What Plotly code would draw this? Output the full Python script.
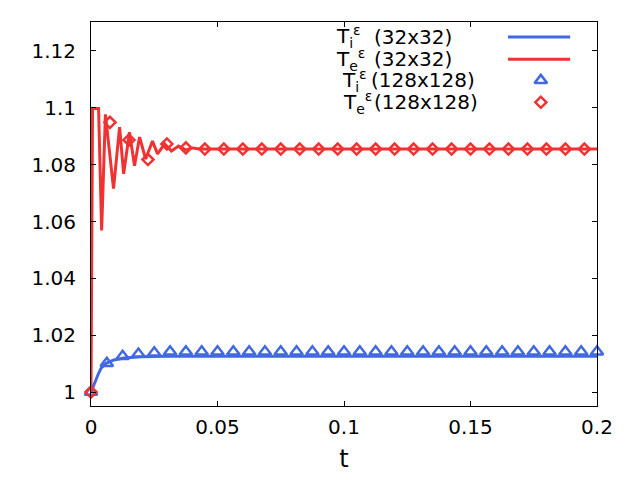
import plotly.graph_objects as go

BLUE = "#4169e1"
RED = "#f03232"

# 32x32 mesh : ion temperature
t_i32 = [0, 0.001, 0.002, 0.003, 0.004, 0.006, 0.009, 0.013, 0.02, 0.03, 0.2]
Ti_32 = [1.0, 1.0024, 1.0045, 1.0066, 1.0084, 1.0101, 1.0113, 1.0120, 1.0124, 1.0126, 1.0126]

# 32x32 mesh : electron temperature (damped oscillation)
t_e32 = [0, 0.0006, 0.003, 0.0042, 0.0057, 0.0089, 0.0113, 0.0129, 0.0152, 0.0172,
         0.0192, 0.0216, 0.0243, 0.0263, 0.0291, 0.0318, 0.0346, 0.0374, 0.0402, 0.0429, 0.2]
Te_32 = [1.0, 1.0998, 1.0998, 1.0569, 1.0977, 1.0716, 1.0932, 1.0768, 1.0914, 1.0796,
         1.0897, 1.0820, 1.0883, 1.0838, 1.0873, 1.0848, 1.0866, 1.0852, 1.0859, 1.0855, 1.0855]

# 128x128 mesh : ion temperature (triangles)
t_i128 = [0, 0.00625, 0.0125, 0.01875, 0.025, 0.03125, 0.0375, 0.04375, 0.05, 0.05625,
          0.0625, 0.06875, 0.075, 0.08125, 0.0875, 0.09375, 0.1, 0.10625, 0.1125, 0.11875,
          0.125, 0.13125, 0.1375, 0.14375, 0.15, 0.15625, 0.1625, 0.16875, 0.175, 0.18125,
          0.1875, 0.19375, 0.2]
Ti_128 = [1.0, 1.0101, 1.0126, 1.0134, 1.0138, 1.0142, 1.0142, 1.0142, 1.0142, 1.0142,
          1.0142, 1.0142, 1.0142, 1.0142, 1.0142, 1.0142, 1.0142, 1.0142, 1.0142, 1.0142,
          1.0142, 1.0142, 1.0142, 1.0142, 1.0142, 1.0142, 1.0142, 1.0142, 1.0142, 1.0142,
          1.0142, 1.0142, 1.0142]

# 128x128 mesh : electron temperature (diamonds)
t_e128 = [0, 0.0075, 0.015, 0.0225, 0.03, 0.0375, 0.045, 0.0525, 0.06, 0.0675,
          0.075, 0.0825, 0.09, 0.0975, 0.105, 0.1125, 0.12, 0.1275, 0.135, 0.1425,
          0.15, 0.1575, 0.165, 0.1725, 0.18, 0.1875, 0.195]
Te_128 = [1.0, 1.0949, 1.0887, 1.0818, 1.0873, 1.0859, 1.0855, 1.0855, 1.0855, 1.0855,
          1.0855, 1.0855, 1.0855, 1.0855, 1.0855, 1.0855, 1.0855, 1.0855, 1.0855, 1.0855,
          1.0855, 1.0855, 1.0855, 1.0855, 1.0855, 1.0855, 1.0855]

x_ticks = [0, 0.05, 0.1, 0.15, 0.2]
x_labels = ["0", "0.05", "0.1", "0.15", "0.2"]
y_ticks = [1.0, 1.02, 1.04, 1.06, 1.08, 1.1, 1.12]
y_labels = ["1", "1.02", "1.04", "1.06", "1.08", "1.1", "1.12"]

names = ["T<sub>i</sub><sup>ε</sup>", "T<sub>e</sub><sup>ε</sup>",
         "T<sub>i</sub><sup>ε</sup>", "T<sub>e</sub><sup>ε</sup>"]
meshes = ["(32x32)", "(32x32)", "(128x128)", "(128x128)"]

tri = dict(symbol="triangle-up-open", size=11, color=BLUE, line=dict(width=2.5, color=BLUE))
dia = dict(symbol="diamond-open", size=8.5, color=RED, line=dict(width=2.5, color=RED))

fig = go.Figure()
fig.add_trace(go.Scatter(x=t_i32, y=Ti_32, mode="lines", line=dict(color=BLUE, width=3)))
fig.add_trace(go.Scatter(x=t_e32, y=Te_32, mode="lines", line=dict(color=RED, width=3)))
fig.add_trace(go.Scatter(x=t_i128, y=Ti_128, mode="markers", marker=tri, cliponaxis=False))
fig.add_trace(go.Scatter(x=t_e128, y=Te_128, mode="markers", marker=dia, cliponaxis=False))

# gnuplot style key: text first, sample on the right (drawn on an overlay 0..1 axis)
rows_y = [0.961, 0.903, 0.848, 0.791]
fig.add_trace(go.Scatter(x=[0.824, 0.947], y=[rows_y[0]] * 2, mode="lines",
                         line=dict(color=BLUE, width=3), xaxis="x2", yaxis="y2"))
fig.add_trace(go.Scatter(x=[0.824, 0.947], y=[rows_y[1]] * 2, mode="lines",
                         line=dict(color=RED, width=3), xaxis="x2", yaxis="y2"))
fig.add_trace(go.Scatter(x=[0.889], y=[rows_y[2]], mode="markers", marker=tri,
                         xaxis="x2", yaxis="y2"))
fig.add_trace(go.Scatter(x=[0.889], y=[rows_y[3]], mode="markers", marker=dia,
                         xaxis="x2", yaxis="y2"))

name_x = [0.480, 0.480, 0.493, 0.494]
mesh_x = [0.556, 0.556, 0.550, 0.556]
for i in range(4):
    fig.add_annotation(x=name_x[i], y=rows_y[i], xref="paper", yref="paper", text=names[i],
                       showarrow=False, xanchor="left", yanchor="middle")
    fig.add_annotation(x=mesh_x[i], y=rows_y[i], xref="paper", yref="paper", text=meshes[i],
                       showarrow=False, xanchor="left", yanchor="middle")

axis_style = dict(showline=True, linecolor="black", linewidth=1, mirror="ticks",
                  ticks="inside", ticklen=5, tickcolor="black", showgrid=False, zeroline=False)

fig.update_layout(
    width=640, height=480,
    margin=dict(l=91, r=43, t=22, b=71),
    plot_bgcolor="white", paper_bgcolor="white",
    showlegend=False,
    font=dict(family="DejaVu Sans", size=20, color="black"),
    xaxis=dict(range=[0, 0.2], tickvals=x_ticks, ticktext=x_labels,
               ticklabelstandoff=3, title=dict(text="t", standoff=12), **axis_style),
    yaxis=dict(range=[0.9951, 1.1302], tickvals=y_ticks, ticktext=y_labels,
               ticklabelstandoff=10, **axis_style),
    xaxis2=dict(range=[0, 1], overlaying="x", anchor="y2", visible=False),
    yaxis2=dict(range=[0, 1], overlaying="y", anchor="x2", visible=False),
)

fig.write_html("out.html", config={"displayModeBar": False},
               post_script="document.body.style.margin = '0';")
